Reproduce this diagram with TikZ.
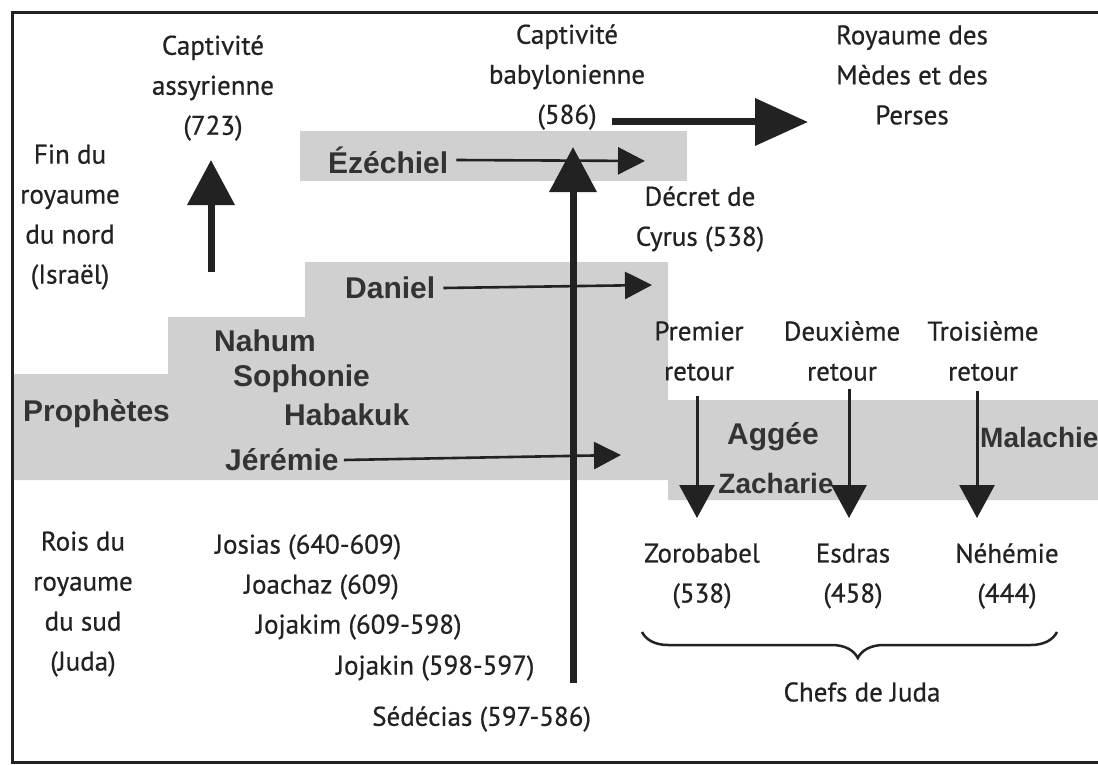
\documentclass[tikz,border=0pt]{standalone}
\usepackage{fontspec}
\setmainfont{PT Sans}
\newfontfamily\rtf{PT Sans}[FakeBold=0.6]
\newfontfamily\bsf{Liberation Sans}
\usetikzlibrary{arrows.meta,decorations.pathreplacing}
\definecolor{ink}{HTML}{222222}
\definecolor{pink}{HTML}{333333}
\definecolor{band}{HTML}{D0D0D0}
\begin{document}
\begin{tikzpicture}[x=1pt,y=-1pt,
  txt/.style={font=\rtf\fontsize{27}{40}\selectfont, align=center, text=ink, inner sep=0pt},
  king/.style={txt, anchor=west},
  pro/.style={font=\bsf\bfseries\fontsize{30}{34}\selectfont, text=pink, inner sep=0pt},
  procond/.style={font=\bsf\bfseries\fontsize{28}{34}\selectfont, text=pink, inner sep=0pt},
  bigarrow/.style={draw=ink, line width=7pt, -{Triangle[length=45pt,width=46pt]}},
  medarrow/.style={draw=ink, line width=3pt, -{Triangle[length=33pt,width=35pt]}},
  smallarrow/.style={draw=ink, line width=2.6pt, -{Triangle[length=27pt,width=27pt]}},
  frame/.style={draw=ink, line width=3pt}
]
\useasboundingbox (0,0) rectangle (1098,765);
\fill[white] (0,0) rectangle (1098,765);
% gray bands
\fill[band] (300,131) rectangle (687,181);
\fill[band] (12,480) -- (12,374) -- (168,374) -- (168,317) -- (305,317) -- (305,262)
  -- (668,262) -- (668,400) -- (1098,400) -- (1098,500) -- (668,500) -- (668,480) -- cycle;
% frame
\draw[frame] (1102,13) -- (12,13) -- (12,762) -- (1102,762);

% top texts
\node[txt] (assy) at (213,88) {Captivité\\assyrienne\\(723)};
\node[txt] (nord) at (70,217) {Fin du\\royaume\\du nord\\(Israël)};
\node[txt] (baby) at (567,77) {Captivité\\babylonienne\\(586)};
\node[txt] (perse) at (912,75) {Royaume des\\Mèdes et des\\Perses};
\node[txt] (cyrus) at (700,219) {Décret de\\Cyrus (538)};

% prophets
\node[pro, anchor=west] (eze) at (328,160) {Ézéchiel};
\node[pro, anchor=west] (dan) at (345,288) {Daniel};
\node[pro, anchor=west] (nah) at (214,341) {Nahum};
\node[pro, anchor=west] (sop) at (233,379) {Sophonie};
\node[pro, anchor=west] (hab) at (284,415) {Habakuk};
\node[pro, anchor=west] (prop) at (23,414) {Prophètes};
\node[pro, anchor=west] (jer) at (225,460) {Jérémie};
\node[pro] (agg) at (773,437) {Aggée};
\node[procond] (zac) at (776,483) {Zacharie};
\node[procond, anchor=west] (mal) at (980,437) {Malachie};

% returns
\node[txt] (ret1) at (699,351) {Premier\\retour};
\node[txt] (ret2) at (842,351) {Deuxième\\retour};
\node[txt] (ret3) at (983,351) {Troisième\\retour};

% chiefs
\node[txt] (zor) at (702,576) {Zorobabel\\(538)};
\node[txt] (esd) at (853,576) {Esdras\\(458)};
\node[txt] (neh) at (1007,576) {Néhémie\\(444)};
\node[txt] (chefs) at (862,692) {Chefs de Juda};

% kings
\node[txt] (sud) at (83,604) {Rois du\\royaume\\du sud\\(Juda)};
\node[king] (jos) at (215,547) {Josias (640-609)};
\node[king] (joa) at (244,587) {Joachaz (609)};
\node[king] (jok) at (256,627) {Jojakim (609-598)};
\node[king] (joj) at (336,668) {Jojakin (598-597)};
\node[king] (sed) at (372,719) {Sédécias (597-586)};

% arrow end points
\coordinate (a1s) at (211,272);
\coordinate (a1t) at (211,160);
\coordinate (a2s) at (573,683);
\coordinate (a2t) at (573,147);
\coordinate (a3s) at (612,122);
\coordinate (a3t) at (808,122);
\coordinate (ezt) at (645,161);
\coordinate (dat) at (652,285);
\coordinate (jet) at (621,455);
\coordinate (r1s) at (697,396);
\coordinate (r1t) at (697,518);
\coordinate (r2s) at (849,389);
\coordinate (r2t) at (849,518);
\coordinate (r3s) at (977,391);
\coordinate (r3t) at (977,518);
\coordinate (bl) at (642,632);
\coordinate (br) at (1057,632);

% arrows
\draw[smallarrow] ([xshift=8pt]eze.east) -- (ezt);
\draw[smallarrow] ([xshift=8pt]dan.east) -- (dat);
\draw[smallarrow] ([xshift=5pt]jer.east) -- (jet);
\draw[bigarrow] (a1s) -- (a1t);
\draw[bigarrow] (a2s) -- (a2t);
\draw[draw=ink, line width=7pt, -{Triangle[length=53pt,width=46pt]}] (a3s) -- (a3t);
\draw[medarrow] (r1s) -- (r1t);
\draw[medarrow] (r2s) -- (r2t);
\draw[medarrow] (r3s) -- (r3t);
% brace
\draw[draw=ink, line width=2.5pt, decorate, decoration={brace, mirror, amplitude=26pt, aspect=0.52}] (bl) -- (br);
\end{tikzpicture}
\end{document}
